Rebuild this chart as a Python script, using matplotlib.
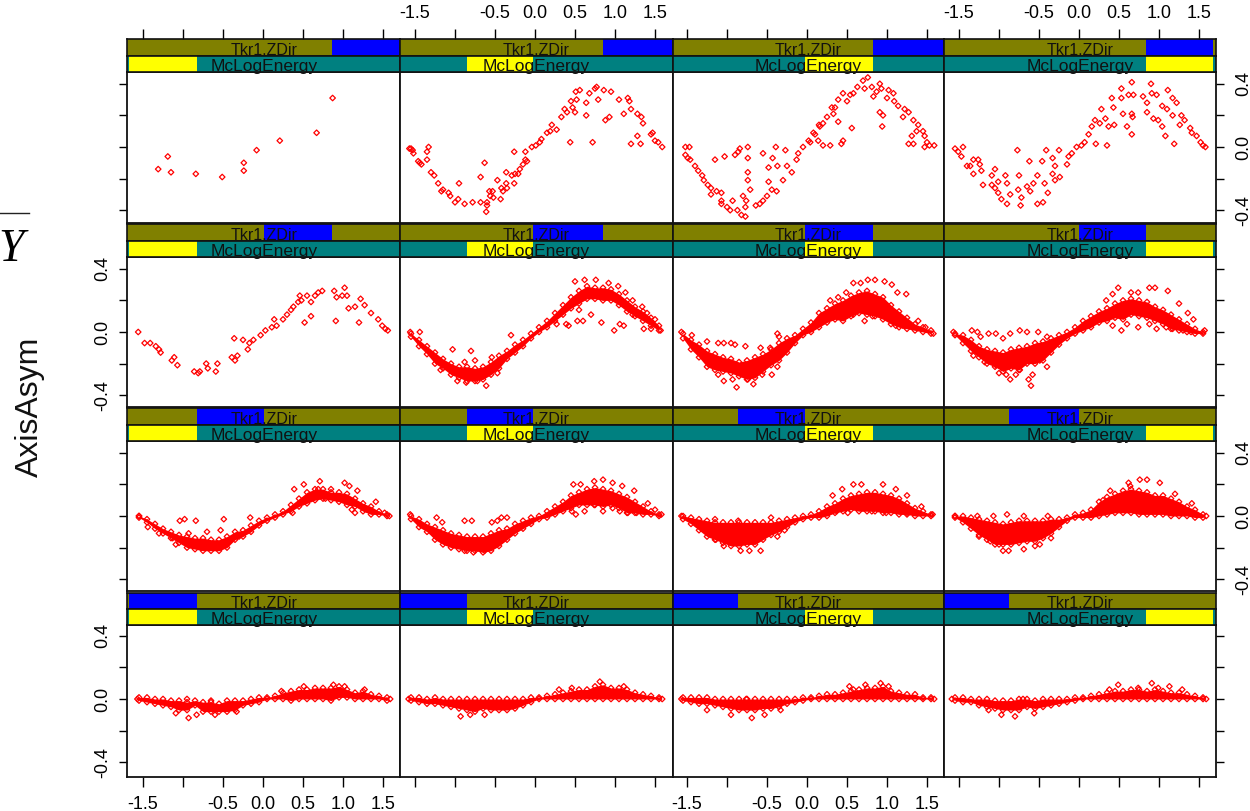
import matplotlib
matplotlib.use("Agg")
import matplotlib.pyplot as plt
from matplotlib.lines import Line2D
import numpy as np

plt.rcParams["font.family"] = ["Liberation Sans", "DejaVu Sans"]

# all values below are in hundredths, (McCosTheta, AxisAsym)
r1c1 = [(-131,-14),(-119,-6),(-115,-16),(-84,-17),(-51,-19),(-24,-10),(-24,-15),(-8,-2),(21,4),(67,9),(87,31)]
r1c2 = [(-157,-1),(-155,-1),(-153,-2),(-152,-4),(-133,0),(-135,-3),(-135,-8),(-146,-9),(-142,-11),(-144,-10),
        (-130,-16),(-126,-18),(-121,-23),(-115,-27),(-117,-28),(-108,-29),(-106,-31),(-100,-35),(-96,-33),(-95,-23),
        (-88,-36),(-78,-35),(-68,-35),(-68,-19),(-63,-10),(-60,-35),(-60,-37),(-61,-41),(-57,-28),(-53,-28),(-56,-31),
        (-52,-32),(-47,-21),(-43,-33),(-42,-26),(-40,-28),(-36,-23),(-36,-16),(-35,-26),(-26,-23),(-26,-3),(-29,-18),
        (-25,-17),(-21,-17),(-19,-14),(-15,-11),(-12,-8),(-10,-9),(-12,-3),(-4,0),(1,1),(6,3),(8,5),(15,9),(19,10),
        (21,14),(27,11),(33,19),(37,24),(40,22),(44,3),(45,29),(47,25),(50,22),(52,30),(51,35),(56,36),(64,28),(64,20),
        (68,34),(72,3),(75,37),(77,38),(79,30),(86,36),(88,17),(93,19),(95,35),(105,30),(111,21),(116,31),(118,29),
        (120,24),(120,2),(128,7),(132,2),(128,21),(133,19),(135,15),(145,8),(147,9),(150,4),(154,3),(159,0)]
r1c3 = [(-152,0),(-147,0),(-152,-5),(-149,-7),(-146,-8),(-140,-12),(-136,-15),(-131,-18),(-129,-21),(-124,-24),
        (-120,-26),(-115,-8),(-120,-30),(-113,-28),(-107,-29),(-103,-6),(-107,-34),(-107,-36),(-100,-38),(-96,-40),
        (-93,-34),(-90,-5),(-86,-3),(-84,-1),(-87,-40),(-82,-43),(-77,-44),(-80,-31),(-76,-34),(-74,0),(-74,-7),
        (-74,-16),(-74,-21),(-71,-27),(-77,-38),(-64,-37),(-59,-36),(-55,-34),(-50,-31),(-55,-4),(-48,-13),(-43,-7),
        (-48,-22),(-44,-27),(-39,0),(-37,-12),(-38,-28),(-30,-21),(-27,-2),(-25,-12),(-19,-16),(-13,-8),(-11,-4),
        (-5,0),(2,4),(8,9),(15,14),(4,3),(10,8),(14,4),(20,1),(29,1),(16,13),(20,15),(25,19),(33,21),(31,25),(35,25),
        (39,16),(45,4),(43,2),(39,30),(45,34),(50,29),(54,33),(56,12),(58,34),(63,38),(70,42),(76,44),(72,37),(81,38),
        (83,32),(87,35),(91,40),(93,37),(91,22),(95,20),(94,13),(100,31),(102,36),(108,34),(109,29),(114,26),(122,24),
        (120,19),(127,22),(133,17),(127,2),(133,2),(137,10),(139,14),(131,7),(145,10),(147,7),(150,3),(147,0),(153,1),(159,1)]
r1c4 = [(-155,-1),(-151,-3),(-145,0),(-147,-6),(-140,-12),(-136,-12),(-132,-8),(-132,-17),(-126,-8),(-124,-11),
        (-122,-15),(-120,-24),(-109,-18),(-105,-14),(-109,-24),(-105,-26),(-101,-22),(-101,-29),(-97,-33),(-90,-36),
        (-92,-18),(-90,-23),(-86,-30),(-77,-2),(-75,-18),(-76,-27),(-73,-37),(-72,-32),(-65,-25),(-62,-9),(-57,-23),
        (-61,-28),(-52,-18),(-52,-36),(-45,-35),(-46,-9),(-43,-23),(-41,-2),(-39,-29),(-33,-7),(-33,-17),(-30,-12),
        (-30,-21),(-25,-2),(-24,-19),(-15,-11),(-13,-6),(-9,-4),(-3,0),(3,1),(7,3),(12,8),(16,13),(21,2),(20,17),(26,15),
        (28,24),(33,18),(35,1),(37,13),(41,31),(43,25),(44,14),(53,37),(53,31),(55,21),(60,13),(62,33),(66,41),(66,21),
        (66,8),(67,19),(68,33),(80,32),(85,28),(85,22),(90,40),(91,34),(93,18),(97,33),(99,17),(104,26),(104,13),(108,7),
        (110,24),(111,36),(117,31),(117,20),(119,2),(122,28),(126,14),(128,20),(132,17),(139,12),(141,9),(147,7),(152,3),
        (155,1),(158,0)]
r2c1 = [(-156,0),(-148,-7),(-141,-7),(-134,-9),(-130,-11),(-128,-13),(-114,-18),(-111,-16),(-107,-21),(-86,-25),
        (-81,-26),(-79,-25),(-71,-20),(-69,-23),(-59,-25),(-57,-20),(-39,-16),(-36,-4),(-35,-18),(-32,-15),(-25,-5),
        (-19,-11),(-17,-7),(-12,-5),(-3,-2),(3,1),(11,3),(14,8),(17,4),(25,8),(30,11),(35,14),(38,16),(44,19),(48,20),
        (46,23),(52,6),(55,23),(60,19),(60,10),(65,23),(69,25),(74,26),(89,26),(91,7),(92,22),(102,28),(99,23),(105,23),
        (107,15),(120,6),(115,16),(122,21),(127,17),(135,12),(144,8),(149,4),(153,2),(156,1)]

# outliers around the solid part of the dense panels
r2c2 = [(-30,-2),(-144,0),(-103,-11),(-80,-12),(-75,-18),(-88,-19),(-54,-16),(-45,-18),(-86,-32),(-61,-34),(-72,-31),
        (-97,-31),(-47,-26),(-118,-24),(50,32),(62,33),(76,33),(92,31),(104,29),(113,25),(122,20),(134,16),(140,12),
        (150,8),(27,5),(39,5),(42,4),(53,7),(60,7),(70,11),(83,6),(99,1),(106,5),(111,4),(136,2),(145,2),(157,1),(55,14),
        (78,23),(85,22),(99,23),(108,20),(122,11),(127,11),(-156,0)]
r2c3 = [(-125,-6),(-111,-7),(-104,-7),(-95,-7),(-90,-8),(-77,-9),(-58,-10),(-46,-10),(-37,-1),(-35,-3),(-104,-31),
        (-88,-35),(-93,-30),(-111,-27),(-67,-33),(-74,-30),(-56,-27),(-44,-27),(-37,-22),(-144,-2),(-157,0),(58,31),
        (67,31),(76,33),(85,33),(97,32),(106,30),(113,25),(124,24),(49,25),(39,22),(29,20),(58,11),(72,7),(82,10),(97,11),
        (111,4),(120,4),(129,5),(139,7),(148,3),(158,-1),(67,14),(83,15),(106,11)]
r2c4 = [(-134,1),(-127,0),(-113,-1),(-104,-1),(-86,-1),(-74,1),(-65,0),(-51,0),(-123,-3),(-95,-4),(-40,-3),(-132,-15),
        (-118,-19),(-104,-21),(-100,-26),(-91,-27),(-86,-30),(-79,-27),(-74,-24),(-63,-30),(-60,-34),(-58,-27),(-49,-18),
        (-40,-22),(49,28),(42,24),(34,20),(65,25),(74,25),(88,28),(95,28),(111,26),(125,18),(136,12),(143,8),(42,4),(53,1),
        (60,5),(74,3),(88,5),(97,2),(109,3),(117,2),(130,1),(140,0),(157,1),(-157,0)]
r3c1 = [(-104,-3),(-98,-2),(-84,-3),(-49,-2),(-109,-18),(-90,-18),(-77,-20),(-60,-20),(-16,-1),(37,2),(39,17),(51,20),
        (71,22),(69,17),(85,17),(102,21),(108,19),(118,16),(111,4),(115,2),(78,11),(102,11),(141,9),(152,2),(158,0),(-155,0),
        (-144,-7),(-130,-11),(-113,-14),(-93,-11),(-70,-10),(-53,-9),(-30,-13)]
r3c2 = [(-123,-1),(-116,-4),(-88,-3),(-79,-3),(-54,-4),(-42,-1),(-35,-1),(-47,-3),(-77,-23),(-63,-22),(-88,-22),(48,20),
        (57,20),(74,22),(85,23),(97,21),(109,19),(124,16),(141,8),(150,4),(158,1),(-156,1),(46,3),(51,1),(62,3),(74,7),
        (85,3),(97,5),(106,3),(116,2),(127,2),(109,8)]
r3c3 = [(-115,-2),(-86,-3),(-45,-1),(-72,-22),(-83,-22),(-58,-22),(-104,-19),(-114,-15),(-37,-13),(-28,-9),(-157,0),
        (58,20),(68,20),(32,13),(44,17),(95,20),(111,17),(125,13),(143,6),(157,1),(37,3),(51,2),(81,3),(99,2),(125,2)]
r3c4 = [(-155,0),(-127,0),(-107,0),(-90,1),(-69,0),(-39,0),(39,16),(30,10),(62,21),(76,23),(85,23),(101,21),(64,19),
        (120,14),(141,8),(159,0),(-125,-13),(-111,-16),(-95,-22),(-88,-22),(-69,-21),(-55,-19),(-49,-18),(-35,-14),(-100,-18)]
r4c1 = [(-93,-12),(-83,-10),(-109,-9),(-60,-10),(88,9),(51,8),(23,5),(-157,0),(159,0),(-33,-8),(-95,0),(-65,-1),(102,8),(127,6)]
r4c2 = [(81,11),(-93,-11),(-81,-10),(-63,-10),(-158,0),(159,0),(46,7),(30,6),(111,8)]
r4c3 = [(-69,-12),(-95,-10),(-125,-7),(-53,-10),(-33,-7),(53,8),(58,6),(73,9),(92,10),(102,8),(-157,0),(159,0),(-76,0)]
r4c4 = [(-80,-11),(-97,-10),(-113,-7),(-56,-9),(38,6),(49,9),(74,7),(91,10),(99,7),(113,8),(129,6),(-159,0),(159,0),(-70,0)]

# solid part of the dense panels: (upper, lower) at each core_x
core_x = [-155,-145,-135,-125,-115,-105,-95,-85,-75,-65,-55,-45,-35,-25,-15,-5,5,15,25,35,45,55,65,75,85,95,105,115,125,135,145,155]
r2c2_core = [(-1,-3),(-5,-9),(-9,-14),(-13,-20),(-17,-23),(-20,-27),(-22,-29),(-22,-31),(-23,-31),(-22,-30),(-19,-27),(-15,-23),(-12,-17),(-8,-13),(-5,-9),(-1,-4),
             (3,0),(7,3),(12,7),(17,11),(22,15),(26,18),(29,21),(28,21),(28,20),(27,20),(24,17),(20,13),(16,10),(13,7),(9,4),(4,1)]
r2c3_core = [(-1,-4),(-5,-11),(-8,-16),(-12,-22),(-14,-24),(-16,-25),(-17,-26),(-19,-28),(-18,-30),(-16,-29),(-14,-25),(-11,-21),(-7,-18),(-4,-13),(-2,-7),(2,-2),
             (6,0),(12,3),(15,6),(18,8),(20,7),(23,10),(25,12),(26,11),(24,10),(22,8),(17,5),(13,3),(9,2),(5,1),(3,0),(1,-1)]
r2c4_core = [(-1,-2),(-2,-7),(-5,-12),(-9,-16),(-11,-20),(-12,-22),(-13,-25),(-11,-23),(-10,-24),(-9,-20),(-7,-20),(-6,-18),(-4,-13),(-2,-8),(0,-4),(3,-1),
             (7,1),(10,3),(13,6),(15,7),(18,9),(20,8),(21,11),(20,10),(19,9),(16,7),(14,5),(11,2),(8,1),(5,0),(2,-1),(0,-1)]
r3c1_core = [(0,-1),(-2,-4),(-5,-8),(-8,-11),(-10,-14),(-12,-17),(-13,-20),(-14,-21),(-14,-22),(-15,-22),(-15,-22),(-13,-20),(-10,-15),(-9,-13),(-6,-10),(-3,-6),
             (-1,-3),(1,-1),(3,1),(7,3),(11,6),(15,8),(17,10),(17,11),(15,10),(15,9),(14,7),(11,6),(8,3),(6,1),(3,1),(1,0)]
r3c2_core = [(0,-2),(-2,-7),(-5,-10),(-7,-15),(-9,-18),(-11,-20),(-12,-21),(-13,-22),(-13,-22),(-13,-23),(-11,-22),(-9,-19),(-8,-15),(-5,-11),(-3,-8),(-1,-5),
             (0,-2),(3,-1),(6,1),(9,3),(13,5),(15,7),(17,7),(18,7),(17,6),(16,7),(14,5),(12,2),(9,2),(6,1),(3,1),(1,0)]
r3c3_core = [(0,-2),(-1,-5),(-2,-9),(-3,-13),(-4,-15),(-4,-17),(-4,-19),(-4,-19),(-4,-18),(-4,-18),(-4,-15),(-4,-12),(-3,-10),(-2,-7),(-1,-4),(0,-2),
             (1,-1),(3,-1),(6,0),(8,2),(11,3),(13,4),(14,3),(15,3),(15,3),(14,2),(13,2),(11,1),(8,1),(5,0),(3,0),(1,0)]
r3c4_core = [(0,-1),(0,-4),(-1,-8),(-2,-12),(-3,-15),(-4,-18),(-5,-18),(-4,-18),(-3,-17),(-3,-16),(-3,-16),(-3,-14),(-2,-11),(-2,-7),(-1,-3),(1,-1),
             (2,-1),(4,-1),(9,0),(12,1),(14,2),(16,2),(17,2),(16,1),(15,1),(13,1),(13,1),(11,0),(9,0),(6,0),(4,-1),(1,-1)]
r4c1_core = [(1,-1),(1,-2),(0,-3),(0,-4),(-1,-5),(-1,-7),(-2,-7),(-1,-4),(-2,-8),(-2,-8),(-3,-8),(-1,-8),(-1,-7),(-1,-4),(0,-3),(1,-2),
             (1,0),(2,0),(4,0),(5,-1),(6,0),(6,0),(7,0),(7,0),(7,-1),(8,1),(6,1),(4,0),(5,0),(3,0),(2,0),(1,-1)]
r4c2_core = [(1,-1),(1,-2),(0,-3),(1,-3),(0,-4),(0,-5),(0,-6),(0,-7),(0,-8),(0,-6),(0,-7),(0,-7),(0,-7),(0,-6),(0,-4),(1,-2),
             (1,0),(2,0),(3,0),(4,0),(5,0),(6,0),(6,0),(8,0),(9,0),(7,0),(7,0),(6,0),(4,0),(3,0),(2,0),(1,0)]
r4c3_core = [(1,-1),(1,-2),(1,-3),(1,-3),(0,-4),(0,-5),(0,-6),(0,-7),(0,-7),(0,-7),(0,-6),(0,-6),(0,-5),(0,-3),(0,-2),(1,-1),
             (1,0),(2,0),(3,0),(3,0),(4,0),(5,0),(6,0),(7,0),(7,0),(8,0),(5,0),(4,0),(3,0),(3,0),(1,0),(1,0)]
r4c4_core = [(1,-1),(1,-2),(0,-2),(0,-4),(0,-5),(-1,-6),(-1,-7),(-1,-7),(0,-7),(0,-5),(-1,-6),(0,-5),(0,-4),(0,-3),(0,-2),(1,-1),
             (1,0),(2,0),(3,0),(4,0),(5,0),(5,0),(6,0),(6,0),(5,0),(6,0),(5,0),(4,0),(4,0),(3,0),(2,0),(1,0)]

panels = [[r1c1, r1c2, r1c3, r1c4], [r2c1, r2c2, r2c3, r2c4], [r3c1, r3c2, r3c3, r3c4], [r4c1, r4c2, r4c3, r4c4]]
cores = [[None, None, None, None], [None, r2c2_core, r2c3_core, r2c4_core],
         [r3c1_core, r3c2_core, r3c3_core, r3c4_core], [r4c1_core, r4c2_core, r4c3_core, r4c4_core]]

# shingle level edges of the strips, per column
strip_edges = [[-1.68, -0.825, 0.01, 0.86, 1.71], [-1.71, -0.85, -0.02, 0.85, 1.71],
               [-1.71, -0.86, -0.02, 0.825, 1.71], [-1.71, -0.875, 0.0, 0.835, 1.67]]

x_ticks = [-1.5, -1.0, -0.5, 0.0, 0.5, 1.0, 1.5]
x_labels = ["-1.5", "", "-0.5", "0.0", "0.5", "1.0", "1.5"]
y_ticks = [-0.4, -0.2, 0.0, 0.2, 0.4]
y_labels = ["-0.4", "", "0.0", "", "0.4"]

W, H = 1250, 811
col_left = [127, 400, 672.5, 944]
col_right = [400, 672.5, 944, 1216]
col_zero = [263, 535, 807, 1079]
row_strip = [39, 224, 408, 592.5]
row_top = [72, 257, 441, 625]
row_bottom = [223, 407, 591, 776.5]
row_zero = [147, 332, 516, 699]
X_SCALE, Y_SCALE = 80, 158
FS = 13


def px_axes(fig, left, right, top, bottom, **kw):
    return fig.add_axes([left / W, 1 - bottom / H, (right - left) / W, (bottom - top) / H], **kw)


def draw_strip(fig, r, c, top, bottom, bg, hi, level, label, size):
    ax = px_axes(fig, col_left[c], col_right[c], top, bottom, zorder=5)
    ax.set_xlim((col_left[c] - col_zero[c]) / X_SCALE, (col_right[c] - col_zero[c]) / X_SCALE)
    ax.set_ylim(0, 1)
    ax.set_facecolor(bg)
    edges = strip_edges[c]
    ax.axvspan(edges[level], edges[level + 1], color=hi, lw=0)
    ax.set_xticks([])
    ax.set_yticks([])
    for s in ax.spines.values():
        s.set_linewidth(1.2)
        s.set_color("#111111")
    ax.text(0.01, 0.04, label, fontsize=size, ha="center", va="baseline", color="#111111", clip_on=False)
    return ax


def main():
    fig = plt.figure(figsize=(W / 100, H / 100), dpi=100, facecolor="white")

    for r in range(4):
        for c in range(4):
            ax = px_axes(fig, col_left[c], col_right[c], row_top[r], row_bottom[r])
            ax.set_xlim((col_left[c] - col_zero[c]) / X_SCALE, (col_right[c] - col_zero[c]) / X_SCALE)
            ax.set_ylim((row_zero[r] - row_bottom[r]) / Y_SCALE, (row_zero[r] - row_top[r]) / Y_SCALE)

            xs, ys = zip(*panels[r][c])
            xs, ys = np.array(xs) / 100, np.array(ys) / 100
            if cores[r][c] is not None:
                hi, lo = zip(*cores[r][c])
                cx = np.array(core_x) / 100
                hi, lo = np.array(hi) / 100, np.array(lo) / 100
                ax.fill_between(cx, lo, hi, color="red", lw=0)
                # rough up the edge of the solid part
                xs = np.concatenate([xs, cx, cx])
                ys = np.concatenate([ys, hi, lo])
            ax.scatter(xs, ys, s=8, marker="D", facecolors="none", edgecolors="red", linewidths=0.9)

            ax.set_xticks(x_ticks)
            ax.set_yticks(y_ticks)
            ax.set_xticklabels([])
            ax.set_yticklabels([])
            ax.tick_params(length=0)
            for s in ax.spines.values():
                s.set_linewidth(1.3)
                s.set_color("#111111")

            if r == 3:
                ax.tick_params(axis="x", top=False, bottom=True, labelbottom=c in (0, 2),
                               length=7, width=1, pad=7, labelsize=FS)
                if c in (0, 2):
                    ax.set_xticklabels(x_labels)
            if c == 0:
                ax.tick_params(axis="y", left=True, labelleft=r in (1, 3), length=6, width=1, pad=5, labelsize=FS)
                if r in (1, 3):
                    ax.set_yticklabels(y_labels, rotation=90, va="center")
            if c == 3:
                ax.tick_params(axis="y", left=False, right=True, labelleft=False, labelright=r in (0, 2),
                               length=6, width=1, pad=8, labelsize=FS)
                if r in (0, 2):
                    ax.set_yticklabels(y_labels, rotation=90, va="center")

            mid = (row_strip[r] + row_top[r]) / 2
            top_strip = draw_strip(fig, r, c, row_strip[r], mid, "#808000", "#0000ff", 3 - r, "Tkr1.ZDir", 11.5)
            draw_strip(fig, r, c, mid, row_top[r], "#008080", "#ffff00", c, "McLogEnergy", 12.5)

            # the top ticks stand on the strip of the first row
            if r == 0:
                top_strip.set_xticks(x_ticks)
                top_strip.tick_params(axis="x", top=True, bottom=False, labeltop=c in (1, 3), labelbottom=False,
                                      length=7, width=1, pad=5, labelsize=FS)
                top_strip.set_xticklabels(x_labels if c in (1, 3) else [])

    fig.text(30 / W, 1 - 407 / H, "AxisAsym", rotation=90, fontsize=23, ha="center", va="center", color="#111111")
    fig.text(-2 / W, 1 - 261 / H, "Y", fontsize=33, family="Liberation Serif", style="italic", ha="left", va="baseline")
    fig.add_artist(Line2D([0, 29 / W], [1 - 213 / H, 1 - 213 / H], color="#222222", lw=1))

    fig.savefig("out.png", dpi=100)
    plt.close(fig)


if __name__ == "__main__":
    main()
